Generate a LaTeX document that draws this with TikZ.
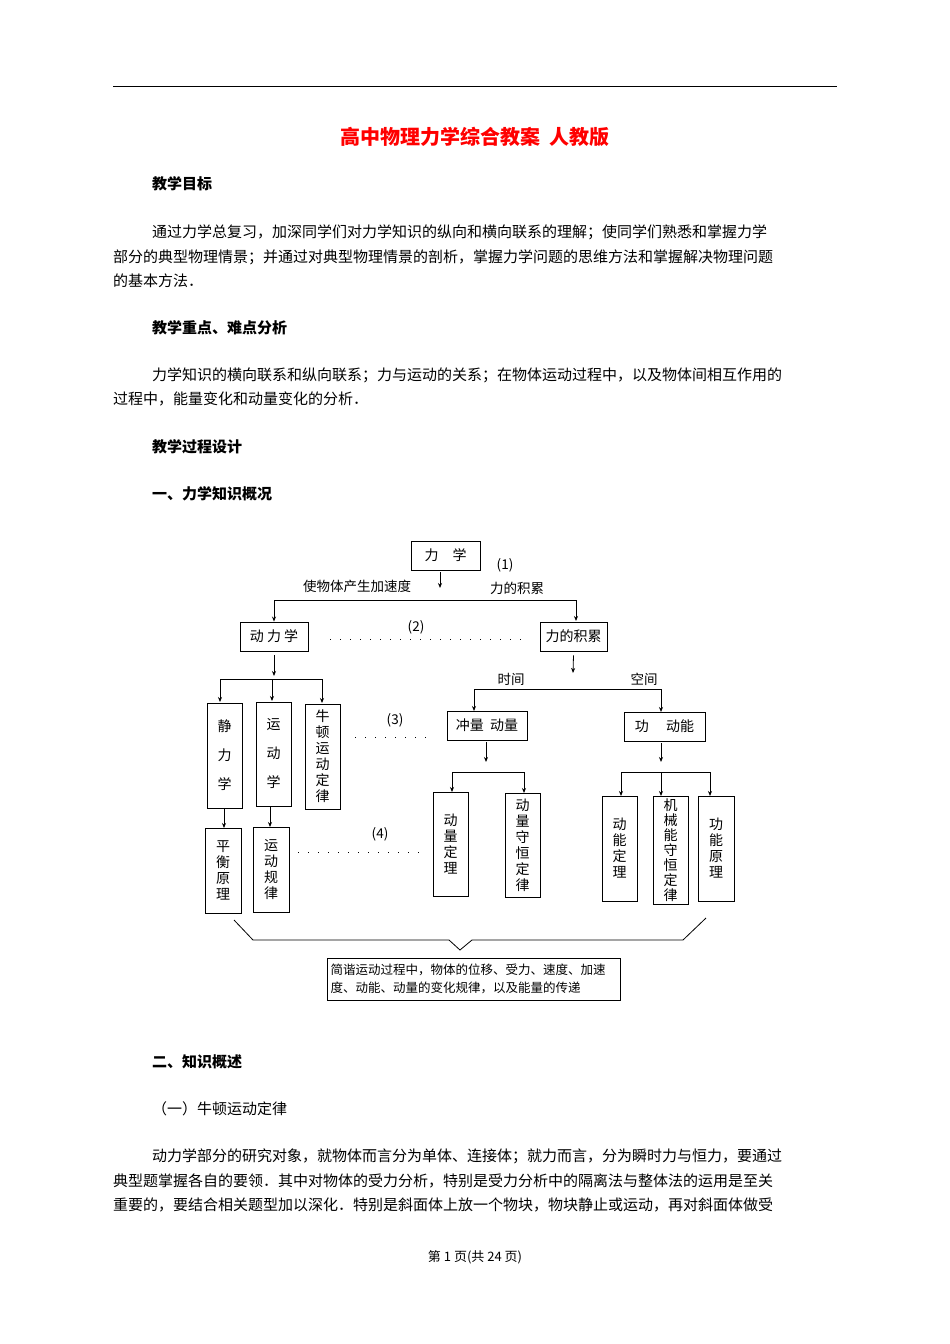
\documentclass[tikz,border=0pt]{standalone}
\usepackage{fontspec}
\setmainfont{Noto Sans CJK SC}
\usetikzlibrary{arrows.meta}
\XeTeXinterchartokenstate=1
\XeTeXinterchartoks 1 1 = {\hskip 0pt plus 1fil\relax}
\XeTeXinterchartoks 1 2 = {\hskip 0pt plus 1fil\relax}
\XeTeXinterchartoks 2 1 = {\hskip 0pt plus 1fil\relax}
\XeTeXinterchartoks 3 1 = {\hskip 0pt plus 1fil\relax}
\XeTeXinterchartoks 1 3 = {\hskip 0pt plus 1fil\relax}
\XeTeXinterchartoks 2 3 = {\hskip 0pt plus 1fil\relax}
\XeTeXinterchartoks 3 2 = {\hskip 0pt plus 1fil\relax}
\begin{document}
\begin{tikzpicture}[x=1pt,y=-1pt,
  body/.style={anchor=west,inner sep=0,font=\fontsize{15}{18}\selectfont},
  head/.style={anchor=west,inner sep=0,font=\fontsize{15}{18}\selectfont\bfseries},
  bx/.style={draw,line width=0.9pt,inner sep=0,font=\fontsize{14}{16}\selectfont,align=center},
  lb/.style={inner sep=0,font=\fontsize{13.5}{15}\selectfont},
  ar/.style={-{Stealth[length=5pt,width=4pt]},line width=0.8pt},
  ln/.style={line width=0.8pt},
  dl/.style={line width=0.9pt,dash pattern=on 1pt off 9pt}]
\useasboundingbox (0,0) rectangle (950,1344);
\fill[white] (0,0) rectangle (950,1344);
\draw[line width=0.8pt] (113,86) -- (837,86);
\node[inner sep=0,text=red,font=\fontsize{20}{24}\selectfont\bfseries] (title) at (475,137) {高中物理力学综合教案\ \ 人教版};
\node[head] (h1) at (152,184) {教学目标};
\node[body] (p11) at (152,232) {\hbox to 685pt{通过力学总复习，加深同学们对力学知识的纵向和横向联系的理解；使同学们熟悉和掌握力学}};
\node[body] (p12) at (113,257) {\hbox to 724pt{部分的典型物理情景；并通过对典型物理情景的剖析，掌握力学问题的思维方法和掌握解决物理问题}};
\node[body] (p13) at (113,281) {的基本方法．};
\node[head] (h2) at (152,328) {教学重点、难点分析};
\node[body] (p21) at (152,375) {\hbox to 685pt{力学知识的横向联系和纵向联系；力与运动的关系；在物体运动过程中，以及物体间相互作用的}};
\node[body] (p22) at (113,399) {过程中，能量变化和动量变化的分析．};
\node[head] (h3) at (152,447) {教学过程设计};
\node[head] (h4) at (152,494) {一、力学知识概况};
% diagram
\node[bx,minimum width=69pt,minimum height=29pt] (lx) at (445.5,555.5) {力\quad 学};
\node[lb] (n1) at (505,565) {(1)};
\node[lb] (t1) at (357,586) {使物体产生加速度};
\node[lb] (t2) at (517,588) {力的积累};
\coordinate (a0) at (440,572); \coordinate (a1) at (440,588);
\draw[ar] (a0) -- (a1);
\node[bx,minimum width=68pt,minimum height=29pt] (dlx) at (274,636.5) {动\ 力\ 学};
\node[bx,minimum width=67pt,minimum height=29pt] (ldj) at (573.5,636.5) {力的积累};
\draw[ln] (274,600) -- (576,600);
\draw[ar] (274,600) -- (dlx.north -| 274,0);
\draw[ar] (576,600) -- (576,621);
\draw[dl] (330,639) -- (525,639);
\node[lb] (n2) at (416,627) {(2)};
% left branch
\draw[ar] (dlx.south) ++(0,4) -- (274,676);
\draw[ln] (220,679) -- (322,679);
\node[bx,minimum width=35pt,minimum height=105pt] (jlx) at (224.5,755.5) {静\\[13pt]力\\[13pt]学};
\node[bx,minimum width=35pt,minimum height=104pt] (ydx) at (273.5,754) {运\\[13pt]动\\[13pt]学};
\node[bx,minimum width=35pt,minimum height=105pt] (nd) at (322.5,756.5) {牛\\顿\\运\\动\\定\\律};
\draw[ar] (220,679) -- (220,702);
\draw[ar] (272,679) -- (272,701);
\draw[ar] (322,679) -- (322,703);
\draw[dl] (355,737) -- (428,737);
\node[lb] (n3) at (395,720) {(3)};
\node[bx,minimum width=36pt,minimum height=85pt] (phyl) at (223,870.5) {平\\衡\\原\\理};
\node[bx,minimum width=36pt,minimum height=85pt] (ydgl) at (271,869.5) {运\\动\\规\\律};
\draw[ar] (224,808) -- (224,828);
\draw[ar] (270,806) -- (270,827);
\draw[dl] (298,852) -- (428,852);
\node[lb] (n4) at (380,834) {(4)};
% right branch
\draw[ar] (ldj.south) ++(0,4) -- (573,673);
\node[lb] (sj) at (511,679) {时间};
\node[lb] (kj) at (644,679) {空间};
\draw[ln] (474,689) -- (661,689);
\node[bx,minimum width=80pt,minimum height=29pt] (cl) at (487,725.5) {冲量\ \ 动量};
\node[bx,minimum width=81pt,minimum height=29pt] (gdn) at (664.5,726.5) {功\quad\ 动能};
\draw[ar] (474,689) -- (474,711);
\draw[ar] (661,689) -- (661,712);
\draw[ar] (486,742) -- (486,762);
\draw[ln] (452,772) -- (524,772);
\node[bx,minimum width=35pt,minimum height=104pt] (dldl) at (450.5,844) {动\\量\\定\\理};
\node[bx,minimum width=35pt,minimum height=104pt] (dlsh) at (522.5,845) {动\\量\\守\\恒\\定\\律};
\draw[ar] (452,772) -- (452,792);
\draw[ar] (524,772) -- (524,793);
\draw[ar] (661,743) -- (661,762);
\draw[ln] (621,772) -- (710,772);
\node[bx,minimum width=35pt,minimum height=105pt] (dndl) at (619.5,848.5) {动\\能\\定\\理};
\node[bx,minimum width=35pt,minimum height=108pt,font=\fontsize{14}{15}\selectfont] (jxn) at (670.5,850) {机\\械\\能\\守\\恒\\定\\律};
\node[bx,minimum width=36pt,minimum height=105pt] (gnyl) at (716,848.5) {功\\能\\原\\理};
\draw[ar] (621,772) -- (621,796);
\draw[ar] (661,772) -- (661,796);
\draw[ar] (710,772) -- (710,796);
% brace
\draw[ln] (234,920) -- (253,940) -- (449,940) -- (460,950) -- (472,940) -- (683,940) -- (706,918);
\node[bx,minimum width=293pt,minimum height=42pt,font=\fontsize{12.5}{18}\selectfont] (jx) at (473.5,979) {\hbox to 286pt{简谐运动过程中，物体的位移、受力、速度、加速}\\\hbox to 286pt{度、动能、动量的变化规律，以及能量的传递}};
% section two
\node[head] (h5) at (152,1062) {二、知识概述};
\node[body] (h6) at (152,1109) {（一）牛顿运动定律};
\node[body] (p31) at (152,1156) {\hbox to 685pt{动力学部分的研究对象，就物体而言分为单体、连接体；就力而言，分为瞬时力与恒力，要通过}};
\node[body] (p32) at (113,1181) {\hbox to 724pt{典型题掌握各自的要领．其中对物体的受力分析，特别是受力分析中的隔离法与整体法的运用是至关}};
\node[body] (p33) at (113,1205) {\hbox to 724pt{重要的，要结合相关题型加以深化．特别是斜面体上放一个物块，物块静止或运动，再对斜面体做受}};
\node[inner sep=0,font=\fontsize{13}{15}\selectfont] (ft) at (475,1257) {第 1 页(共 24 页)};
\end{tikzpicture}
\end{document}
